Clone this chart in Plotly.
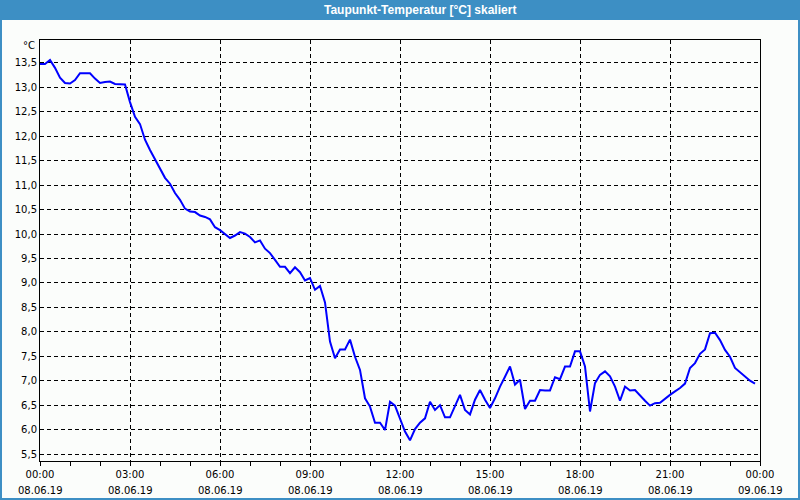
import pandas as pd
import plotly.graph_objects as go

# ---- data ----
date = "2019-06-08"
times = [
    "00:00","00:10","00:20","00:30","00:40","00:50","01:00","01:10","01:20","01:30","01:40","01:50",
    "02:00","02:10","02:20","02:30","02:40","02:50","03:00","03:10","03:20","03:30","03:40","03:50",
    "04:00","04:10","04:20","04:30","04:40","04:50","05:00","05:10","05:20","05:30","05:40","05:50",
    "06:00","06:10","06:20","06:30","06:40","06:50","07:00","07:10","07:20","07:30","07:40","07:50",
    "08:00","08:10","08:20","08:30","08:40","08:50","09:00","09:10","09:20","09:30","09:40","09:50",
    "10:00","10:10","10:20","10:30","10:40","10:50","11:00","11:10","11:20","11:30","11:40","11:50",
    "12:00","12:10","12:20","12:30","12:40","12:50","13:00","13:10","13:20","13:30","13:40","13:50",
    "14:00","14:10","14:20","14:30","14:40","14:50","15:00","15:10","15:20","15:30","15:40","15:50",
    "16:00","16:10","16:20","16:30","16:40","16:50","17:00","17:10","17:20","17:30","17:40","17:50",
    "18:00","18:10","18:20","18:30","18:40","18:50","19:00","19:10","19:20","19:30","19:40","19:50",
    "20:00","20:10","20:20","20:30","20:40","20:50","21:00","21:10","21:20","21:30","21:40","21:50",
    "22:00","22:10","22:20","22:30","22:40","22:50","23:00","23:10","23:20","23:30","23:40","23:50",
]
dewpoint = [
    13.48, 13.48, 13.56, 13.40, 13.20, 13.09, 13.08, 13.15, 13.29, 13.29, 13.29, 13.18,
    13.09, 13.11, 13.12, 13.07, 13.06, 13.06, 12.70, 12.40, 12.25, 11.93, 11.72, 11.52,
    11.35, 11.15, 11.03, 10.84, 10.70, 10.52, 10.46, 10.45, 10.38, 10.35, 10.30, 10.14,
    10.08, 10.00, 9.92, 9.97, 10.04, 10.01, 9.94, 9.83, 9.87, 9.70, 9.61, 9.47,
    9.33, 9.33, 9.20, 9.32, 9.22, 9.05, 9.10, 8.86, 8.94, 8.60, 7.80, 7.46,
    7.64, 7.64, 7.84, 7.49, 7.22, 6.64, 6.47, 6.14, 6.14, 5.99, 6.57, 6.49,
    6.23, 5.96, 5.78, 6.01, 6.14, 6.23, 6.57, 6.40, 6.50, 6.25, 6.25, 6.47,
    6.71, 6.40, 6.31, 6.61, 6.81, 6.61, 6.44, 6.64, 6.88, 7.08, 7.29, 6.92,
    7.02, 6.42, 6.59, 6.59, 6.81, 6.80, 6.80, 7.07, 7.03, 7.29, 7.29, 7.60,
    7.60, 7.29, 6.37, 6.95, 7.12, 7.19, 7.09, 6.88, 6.59, 6.88, 6.80, 6.81,
    6.69, 6.59, 6.49, 6.54, 6.55, 6.64, 6.71, 6.78, 6.85, 6.94, 7.26, 7.36,
    7.55, 7.64, 7.97, 7.98, 7.83, 7.63, 7.49, 7.26, 7.17, 7.10, 7.00, 6.94,
]
x_tick_vals = ["2019-06-08 00:00", "2019-06-08 03:00", "2019-06-08 06:00", "2019-06-08 09:00",
               "2019-06-08 12:00", "2019-06-08 15:00", "2019-06-08 18:00", "2019-06-08 21:00",
               "2019-06-09 00:00"]
x_tick_time = ["00:00", "03:00", "06:00", "09:00", "12:00", "15:00", "18:00", "21:00", "00:00"]
x_tick_date = ["08.06.19", "08.06.19", "08.06.19", "08.06.19", "08.06.19",
               "08.06.19", "08.06.19", "08.06.19", "09.06.19"]
y_tick_vals = [5.5, 6.0, 6.5, 7.0, 7.5, 8.0, 8.5, 9.0, 9.5, 10.0, 10.5, 11.0, 11.5, 12.0, 12.5, 13.0, 13.5]
title_text = "Taupunkt-Temperatur [°C] skaliert"
unit_text = "°C"

# ---- layout geometry (pixels) ----
W, H = 800, 500
L, R, T, B = 40, 40, 40, 39
PW, PH = W - L - R, H - T - B
def px(x):
    return (x - L) / PW
def py(y):
    return (H - B - y) / PH

BLUE = "#3d8fc4"
BG = "#fbfdfb"
FONT = "DejaVu Sans"

x = pd.to_datetime([f"{date} {t}" for t in times])

fig = go.Figure()
fig.add_trace(go.Scatter(x=x, y=dewpoint, mode="lines",
                         line=dict(color="#0000ff", width=2), hoverinfo="skip"))

annotations = [
    dict(text=f"<b>{title_text}</b>", xref="paper", yref="paper", x=px(420), y=py(10),
         xanchor="center", yanchor="middle", showarrow=False,
         font=dict(family="Liberation Sans", size=12, color="#ffffff")),
    dict(text=unit_text, xref="paper", yref="paper", x=px(37), y=py(45),
         xanchor="right", yanchor="middle", showarrow=False,
         font=dict(family=FONT, size=10, color="#000000")),
]
for tv, td in zip(x_tick_vals, x_tick_date):
    annotations.append(dict(text=td, xref="x", yref="paper", x=tv, y=py(490),
                            xanchor="center", yanchor="middle", showarrow=False,
                            font=dict(family=FONT, size=10, color="#000000")))

fig.update_layout(
    width=W, height=H,
    margin=dict(l=L, r=R, t=T, b=B, autoexpand=False),
    paper_bgcolor=BG, plot_bgcolor=BG,
    separators=",.",
    showlegend=False,
    font=dict(family=FONT, size=10, color="#000000"),
    xaxis=dict(
        type="date", automargin=False,
        range=["2019-06-08 00:00", "2019-06-09 00:00"],
        tickvals=x_tick_vals, ticktext=x_tick_time,
        showline=True, linecolor="#000000", linewidth=1, mirror=True,
        ticks="outside", ticklen=4, tickcolor="#000000", tickwidth=1,
        minor=dict(dtick=3600000, ticks="outside", ticklen=4, tickcolor="#000000", showgrid=False),
        showgrid=True, gridcolor="#000000", gridwidth=1, griddash="4px,3px",
        zeroline=False,
        tickfont=dict(family=FONT, size=10, color="#000000"),
    ),
    yaxis=dict(
        automargin=False,
        range=[5.357, 13.97],
        tickvals=y_tick_vals, tickformat=".1f",
        showline=True, linecolor="#000000", linewidth=1, mirror=True,
        ticks="", showgrid=True, gridcolor="#000000", gridwidth=1, griddash="4px,3px",
        zeroline=False,
        tickfont=dict(family=FONT, size=10, color="#000000"),
    ),
    shapes=[
        dict(type="rect", xref="paper", yref="paper", x0=px(0), x1=px(W), y0=py(20), y1=py(0),
             fillcolor=BLUE, line=dict(width=0), layer="above"),
        dict(type="rect", xref="paper", yref="paper", x0=px(1), x1=px(W - 1), y0=py(H - 1), y1=py(1),
             fillcolor="rgba(0,0,0,0)", line=dict(color=BLUE, width=2), layer="above"),
    ],
    annotations=annotations,
)

fig.write_html("out.html")
